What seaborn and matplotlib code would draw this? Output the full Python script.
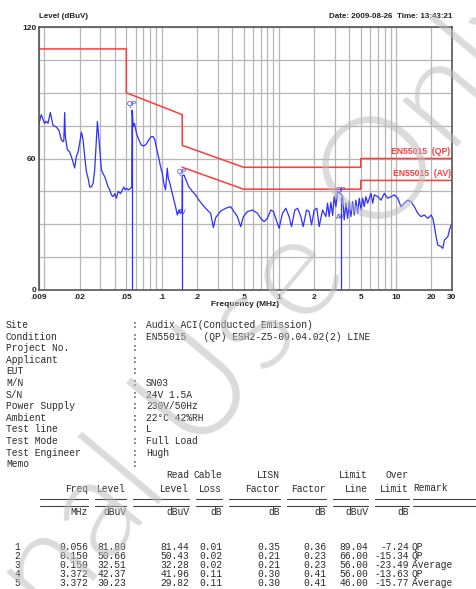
import matplotlib
matplotlib.use("Agg")
import matplotlib.pyplot as plt
import matplotlib.ticker as mticker
import pandas as pd
import seaborn as sns

# ==========================================================
#   DATA
# ==========================================================
freq_mhz = [
    0.0090, 0.00941, 0.01004, 0.01039, 0.01074, 0.01124, 0.01186, 0.01265,
    0.01335, 0.01396, 0.01443, 0.01465, 0.0149, 0.0151, 0.01571, 0.01644,
    0.01733, 0.01813, 0.01875, 0.01939, 0.02001, 0.02069, 0.0214, 0.02208,
    0.02283, 0.02361, 0.02436, 0.02519, 0.02605, 0.02688, 0.02779, 0.02834,
    0.02908, 0.03067, 0.03172, 0.03273, 0.03384, 0.035, 0.03612, 0.03734,
    0.03861, 0.03985, 0.0412, 0.0426, 0.04458, 0.04637, 0.04757, 0.0489,
    0.05017, 0.05188, 0.0535, 0.0556, 0.0560, 0.05725, 0.05873, 0.06108,
    0.06391, 0.067, 0.07051, 0.07436, 0.0778, 0.08158, 0.08484, 0.08754,
    0.09054, 0.0947, 0.09794, 0.1013, 0.1045, 0.1081, 0.1118, 0.114,
    0.1176, 0.1233, 0.1273, 0.1316, 0.1361, 0.1405, 0.1452, 0.1495,
    0.1500, 0.155, 0.1634, 0.1709, 0.1828, 0.195, 0.2082, 0.2226,
    0.2375, 0.2534, 0.262, 0.2763, 0.2892, 0.319, 0.352, 0.3884,
    0.4145, 0.4432, 0.4728, 0.4987, 0.5396, 0.5954, 0.6569, 0.701,
    0.7482, 0.7997, 0.8535, 0.9, 0.9414, 1.005, 1.075, 1.147,
    1.223, 1.283, 1.369, 1.444, 1.541, 1.612, 1.724, 1.814,
    1.902, 2.001, 2.11, 2.208, 2.361, 2.436, 2.519, 2.605,
    2.688, 2.779, 2.875, 2.966, 3.067, 3.172, 3.372, 3.498,
    3.611, 3.734, 3.861, 3.985, 4.12, 4.26, 4.397, 4.546,
    4.701, 4.851, 5.017, 5.187, 5.353, 5.535, 5.724, 6.108,
    6.317, 6.519, 6.97, 7.437, 7.935, 8.484, 9.054, 9.662,
    10.33, 11.02, 11.76, 12.58, 13.42, 14.32, 15.31, 16.34,
    17.44, 18.65, 19.9, 20.57, 21.27, 21.95, 22.7, 24.22,
    25.05, 25.85, 27.64, 28.53, 29.5, 30.0,
]
level_dbuv = [
    76, 80, 76, 77, 76, 81, 75, 74.4,
    72.7, 68.5, 67.7, 68, 81, 70, 64, 63,
    59.4, 55.7, 61, 63, 67, 72, 68.5, 61,
    54, 51, 47, 47, 48.7, 54.8, 68.5, 76.9,
    70, 54.8, 53, 51.7, 49.5, 47, 45.7, 43.4,
    42.6, 44, 41.9, 45, 44, 45.7, 47, 45.7,
    46.4, 45.7, 46, 47, 82, 74.6, 76, 71.5,
    68.5, 66.2, 65.7, 66.7, 68.5, 70, 70, 68.5,
    64.7, 60.1, 56.3, 53.3, 48.7, 45.7, 55.6, 51,
    48.7, 44.1, 41, 38, 34.2, 36.5, 35, 36,
    52, 52.5, 49.5, 47, 45, 43.4, 41, 39,
    37.3, 35.7, 35, 28.5, 33, 36, 37.3, 38,
    35.8, 33.5, 28.9, 33.5, 35.8, 36.5, 35, 32.7,
    31.2, 32.7, 36.5, 35.8, 32.7, 28.2, 35, 37.3,
    33.5, 28.9, 36.5, 37.3, 33.5, 28.9, 36.5, 35.8,
    29.7, 36.5, 37.3, 28.9, 36.5, 35, 33.5, 39.6,
    33.5, 40, 34, 42.6, 38, 45, 44, 42.6,
    32, 39.6, 32.7, 40.3, 33.5, 40.3, 34.2, 41,
    35, 41.9, 36.5, 41.9, 38, 42.6, 39.6, 44.1,
    39.6, 43.4, 42.6, 41, 44.1, 41.9, 42.6, 43.4,
    41.9, 38, 39.6, 41, 40.3, 38, 35, 33.5,
    34.2, 32.7, 34.2, 32.7, 28.9, 24.3, 20.5, 19.8,
    19, 22.8, 24.3, 27.4, 29.7, 29.7,
]

qp_limit_freq = [0.009, 0.05, 0.05, 0.15, 0.15, 0.5, 5, 5, 30]
qp_limit_level = [110, 110, 90, 80, 66, 56, 56, 60, 60]
av_limit_freq = [0.15, 0.5, 5, 5, 30]
av_limit_level = [56, 46, 46, 50, 50]

mk_no = [1, 2, 3, 4, 5]
mk_freq = [0.056, 0.150, 0.150, 3.372, 3.372]
mk_level = [81.80, 50.66, 32.51, 42.37, 30.23]
mk_read = [81.44, 50.43, 32.28, 41.96, 29.82]
mk_cable = [0.01, 0.02, 0.02, 0.11, 0.11]
mk_lisn = [0.35, 0.21, 0.21, 0.30, 0.30]
mk_factor = [0.36, 0.23, 0.23, 0.41, 0.41]
mk_limit = [89.04, 66.00, 56.00, 56.00, 46.00]
mk_over = [-7.24, -15.34, -23.49, -13.63, -15.77]
mk_remark = ["QP", "QP", "Average", "QP", "Average"]

x_tick_vals = [0.009, 0.02, 0.05, 0.1, 0.2, 0.5, 1, 2, 5, 10, 20, 30]
x_tick_text = [".009", ".02", ".05", ".1", ".2", ".5", "1", "2", "5", "10", "20", "30"]

info_labels = ["Site", "Condition", "Project No.", "Applicant", "EUT", "M/N", "S/N",
               "Power Supply", "Ambient", "Test line", "Test Mode", "Test Engineer", "Memo"]
info_values = ["Audix ACI(Conducted Emission)", "EN55015   (QP) ESH2-Z5-09.04.02(2) LINE",
               "", "", "", "SN03", "24V 1.5A", "230V/50Hz", "22\u00b0C 42%RH", "L",
               "Full Load", "Hugh", ""]

# ==========================================================
#   LAYOUT HELPERS (pixel -> figure fraction)
# ==========================================================
W, H = 476, 589
BLUE = "#2f2fff"
RED = "#ff3a3a"
INK = "#2a2a2a"


def fx(x):
    return x / W


def fy(y):
    return 1 - y / H


sns.set_theme(style="white")
plt.rcParams["font.family"] = ["Liberation Sans", "DejaVu Sans"]

fig = plt.figure(figsize=(W / 100, H / 100), dpi=100)
fig.patch.set_facecolor("white")
ax = fig.add_axes([fx(39), fy(290), fx(452) - fx(39), fy(27) - fy(290)])
ax.set_xscale("log")

# ---- trace and limits ----
trace = pd.DataFrame({"freq": freq_mhz, "level": level_dbuv})
qp = pd.DataFrame({"freq": qp_limit_freq, "level": qp_limit_level})
av = pd.DataFrame({"freq": av_limit_freq, "level": av_limit_level})

sns.lineplot(data=qp, x="freq", y="level", ax=ax, color=RED, lw=1.1, estimator=None, sort=False)
sns.lineplot(data=av, x="freq", y="level", ax=ax, color=RED, lw=1.1, estimator=None, sort=False)
sns.lineplot(data=trace, x="freq", y="level", ax=ax, color=BLUE, lw=0.9, estimator=None, sort=False)

# marker lines + labels
for f, lv, rm in zip(mk_freq, mk_level, mk_remark):
    if rm == "QP":
        ax.vlines(f, 0, lv, color=BLUE, lw=0.9)
    ax.annotate("QP" if rm == "QP" else "AV", (f, lv), xytext=(0, 2), textcoords="offset points",
                ha="center", va="bottom", fontsize=5, color=BLUE)

ax.annotate("EN55015  (QP)", (30, 60), xytext=(-1, 2), textcoords="offset points",
            ha="right", va="bottom", fontsize=6.2, color=RED, fontweight="bold")
ax.annotate("EN55015  (AV)", (30, 50), xytext=(-1, 2), textcoords="offset points",
            ha="right", va="bottom", fontsize=6.2, color=RED, fontweight="bold")

# ---- axes ----
ax.set_xlim(0.009, 30)
ax.set_ylim(0, 120)
minor_x = [m * d for d in [0.001, 0.01, 0.1, 1, 10] for m in range(1, 10) if 0.009 <= m * d <= 30]
ax.xaxis.set_major_locator(mticker.FixedLocator(x_tick_vals))
ax.xaxis.set_major_formatter(mticker.FixedFormatter(x_tick_text))
ax.xaxis.set_minor_locator(mticker.FixedLocator(minor_x))
ax.xaxis.set_minor_formatter(mticker.NullFormatter())
ax.yaxis.set_major_locator(mticker.FixedLocator([0, 60, 120]))
ax.yaxis.set_minor_locator(mticker.MultipleLocator(15))
ax.grid(which="both", color="#b6b6b6", lw=0.9)
ax.tick_params(which="both", length=0, pad=2, labelsize=6, colors="#222222")
ax.tick_params(axis="x", pad=3)
for lbl in ax.get_xticklabels() + ax.get_yticklabels():
    lbl.set_fontweight("bold")
ax.set_xlabel("")
ax.set_ylabel("")
for s in ax.spines.values():
    s.set_color("#555555")
    s.set_linewidth(1.2)

fig.text(fx(39), fy(17), "Level (dBuV)", fontsize=5.8, fontweight="bold", va="center", color="#222222")
fig.text(fx(452), fy(17), "Date: 2009-08-26  Time: 13:43:21", fontsize=5.8, fontweight="bold",
         va="center", ha="right", color="#222222")
fig.text(fx(245), fy(305), "Frequency (MHz)", fontsize=6, fontweight="bold", va="center",
         ha="center", color="#222222")

# ---- info block ----
mono = dict(family="Liberation Mono", fontsize=6.9, color=INK, va="center")
for i, (lab, val) in enumerate(zip(info_labels, info_values)):
    y = 325 + 11.6 * i
    fig.text(fx(6), fy(y), lab, **mono)
    fig.text(fx(132), fy(y), ":", **mono)
    fig.text(fx(146), fy(y), val, **mono)

# ---- marker table ----
col_right = [88, 126, 189, 222, 280, 326, 368, 409]
head1 = ["", "", "Read", "Cable", "LISN", "", "Limit", "Over"]
head2 = ["Freq", "Level", "Level", "Loss", "Factor", "Factor", "Line", "Limit"]
units = ["MHz", "dBuV", "dBuV", "dB", "dB", "dB", "dBuV", "dB"]
for xr, a, b, u in zip(col_right, head1, head2, units):
    fig.text(fx(xr), fy(482.5), a + "\n" + b, ha="right", multialignment="right",
             linespacing=1.5, **mono)
    fig.text(fx(xr), fy(512), u, ha="right", **mono)
fig.text(fx(413), fy(488.3), "Remark", ha="left", **mono)

seg_left = [40] + [r + 7 for r in col_right[:-1]] + [413]
seg_right = col_right + [476]
for xl, xr in zip(seg_left, seg_right):
    for yl in (499, 505.5):
        fig.add_artist(plt.Line2D([fx(xl), fx(xr)], [fy(yl), fy(yl)], color="#444444", lw=0.8))

# each column is one multi-line text so the tight row pitch does not clash
columns = [
    [f"{v:.3f}" for v in mk_freq],
    [f"{v:.2f}" for v in mk_level],
    [f"{v:.2f}" for v in mk_read],
    [f"{v:.2f}" for v in mk_cable],
    [f"{v:.2f}" for v in mk_lisn],
    [f"{v:.2f}" for v in mk_factor],
    [f"{v:.2f}" for v in mk_limit],
    [f"{v:.2f}" for v in mk_over],
]
ROW_MID = 565
ROW_LS = 0.88
fig.text(fx(20), fy(ROW_MID), "\n".join(str(n) for n in mk_no), ha="right",
         multialignment="right", linespacing=ROW_LS, **mono)
for xr, col in zip(col_right, columns):
    fig.text(fx(xr), fy(ROW_MID), "\n".join(col), ha="right", multialignment="right",
             linespacing=ROW_LS, **mono)
fig.text(fx(412), fy(ROW_MID), "\n".join(mk_remark), ha="left", multialignment="left",
         linespacing=ROW_LS, **mono)

# ---- watermark ----
fig.text(fx(55), fy(628), "nal Use Only", fontsize=104, color="#bdbdbd", alpha=0.55,
         rotation=50, rotation_mode="anchor", ha="left", va="baseline",
         family=["Lato", "DejaVu Sans"], fontweight=300, zorder=10)

fig.savefig("out.png", dpi=100, facecolor="white")
plt.close(fig)
